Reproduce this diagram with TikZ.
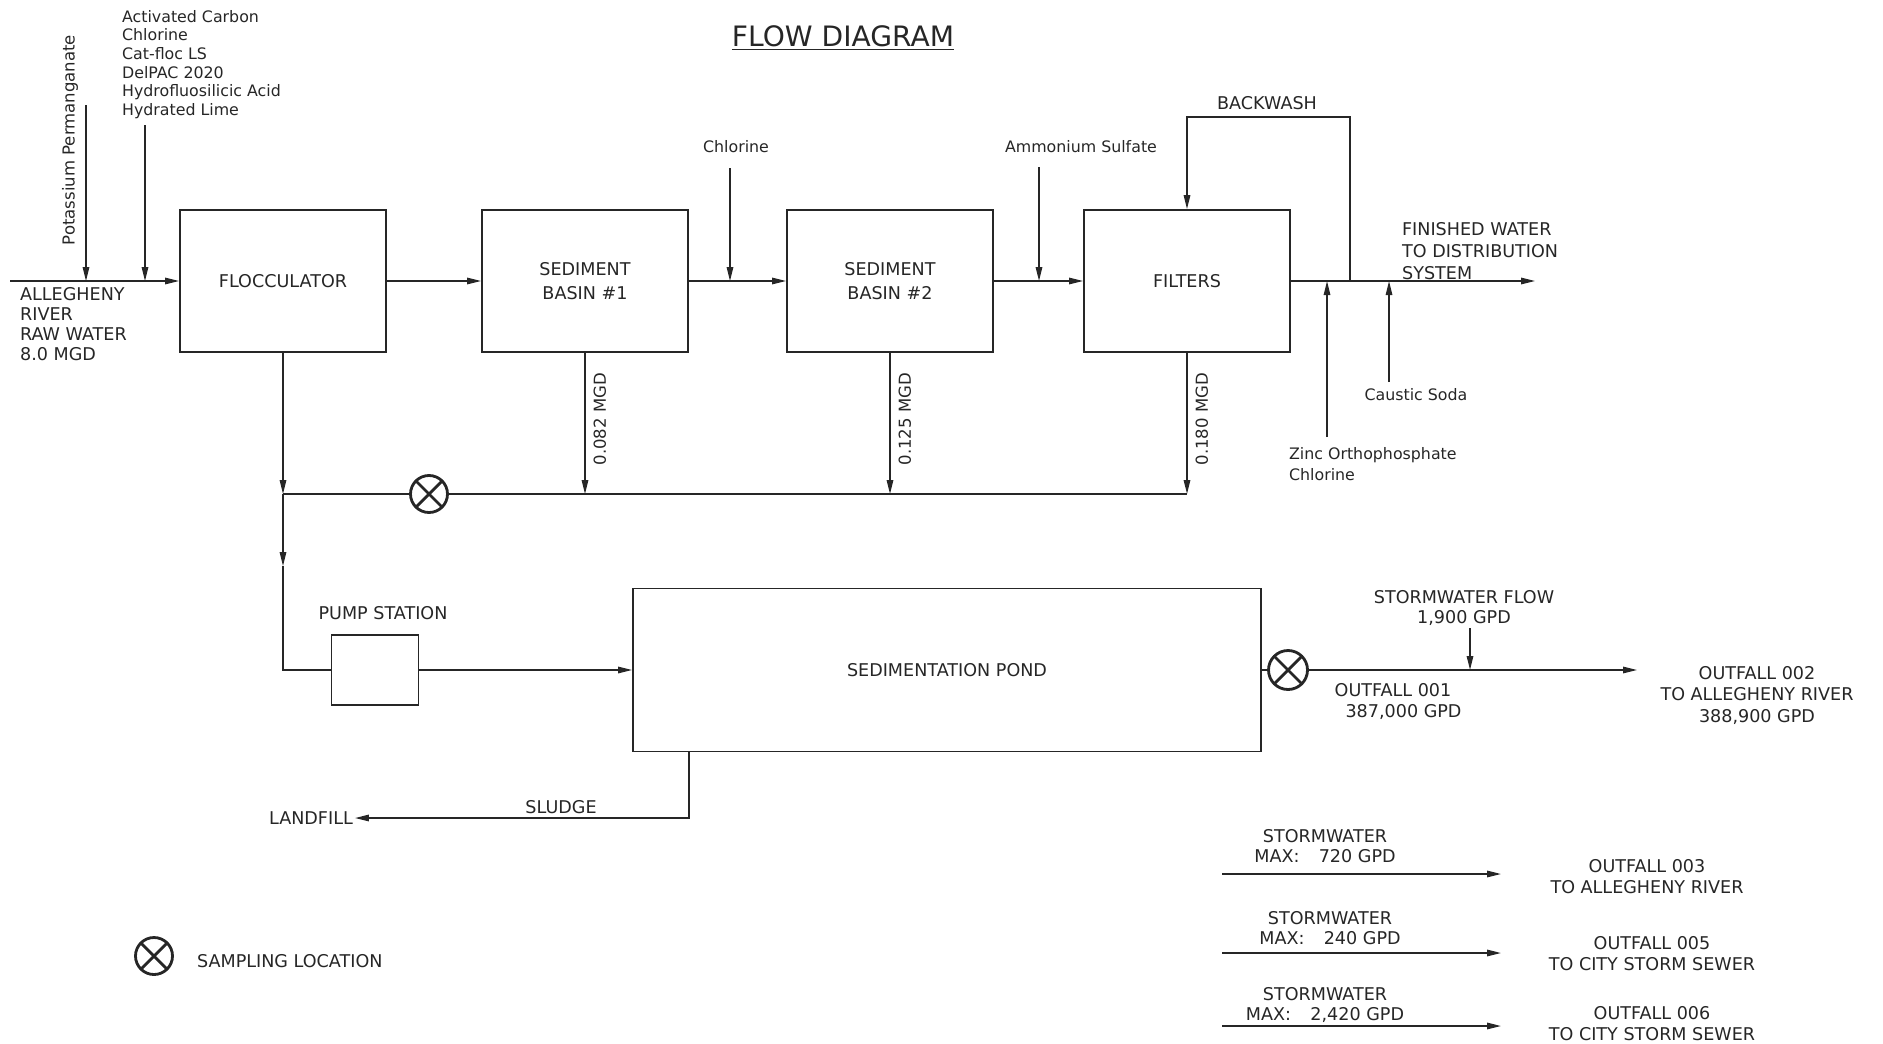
\documentclass[tikz,border=0pt]{standalone}
\usepackage{fontspec}
\setmainfont{DejaVu Sans}
\usepackage{tikz}
\usetikzlibrary{arrows.meta}
\colorlet{ink}{black!85}
\tikzset{
  >={Triangle[length=2.8mm,width=1.3mm]},
  pipe/.style={draw=ink, line width=0.8pt},
  arrow/.style={-{Triangle[length=2.8mm,width=1.3mm]}, draw=ink, line width=0.8pt},
  box/.style={
    rectangle,
    draw=ink,
    line width=1pt,
    minimum width=41.2mm,
    minimum height=28.4mm,
    align=center,
    text=ink,
    font=\fontsize{10pt}{14pt}\selectfont
  },
  lbl/.style={text=ink, align=center, inner sep=1pt, font=\fontsize{10pt}{11.4pt}\selectfont},
  widelbl/.style={lbl, font=\fontsize{10pt}{12.4pt}\selectfont},
  note/.style={text=ink, align=left, inner sep=1pt, font=\fontsize{9pt}{10.6pt}\selectfont},
  tilted/.style={rotate=90, text=ink, inner sep=4.5pt, font=\fontsize{9.4pt}{11pt}\selectfont},
  samp/.style={
    circle,
    draw=ink,
    fill=white,
    line width=1.6pt,
    minimum size=7.4mm,
    inner sep=0pt,
    path picture={
      \draw[ink, line width=1.6pt]
        (path picture bounding box.north west) -- (path picture bounding box.south east)
        (path picture bounding box.north east) -- (path picture bounding box.south west);
    }
  }
}
\newcommand{\FlowTitle}[1]{%
  \node[text=ink, font=\fontsize{16pt}{18pt}\selectfont] (title) at (843,38) {\underline{#1}};
}

\begin{document}
\begin{tikzpicture}[x=0.2mm,y=-0.2mm]
  \useasboundingbox (0,0) rectangle (1883,1043);
  \FlowTitle{FLOW DIAGRAM}

  % treatment train
  \node[box] (floc) at (283,281) {FLOCCULATOR};
  \node[box] (sb1) at (585,281) {SEDIMENT\\BASIN \#1};
  \node[box] (sb2) at (890,281) {SEDIMENT\\BASIN \#2};
  \node[box] (filt) at (1187,281) {FILTERS};

  \coordinate (rawin) at (10,281);
  \draw[arrow] (rawin) -- (floc.west);
  \draw[arrow] (floc.east) -- (sb1.west);
  \draw[arrow] (sb1.east) -- (sb2.west);
  \draw[arrow] (sb2.east) -- (filt.west);
  \node[lbl, align=left, anchor=north west] (raw) at (18,285) {ALLEGHENY\\RIVER\\RAW WATER\\8.0 MGD};

  % chemical feeds
  \coordinate (kmtop) at (86,105);
  \coordinate (chemtop) at (145,125);
  \coordinate (cltop) at (730,168);
  \coordinate (amtop) at (1039,167);
  \draw[arrow] (kmtop) -- (kmtop |- floc.west);
  \draw[arrow] (chemtop) -- (chemtop |- floc.west);
  \draw[arrow] (cltop) -- (cltop |- sb1.east);
  \draw[arrow] (amtop) -- (amtop |- sb2.east);
  \node[tilted, inner sep=1pt, font=\fontsize{9.4pt}{11pt}\selectfont] (kmno) at (70,140) {Potassium Permanganate};
  \node[note, anchor=north west] (chems) at (120,8)
    {Activated Carbon\\Chlorine\\Cat-floc LS\\DelPAC 2020\\Hydrofluosilicic Acid\\Hydrated Lime};
  \node[note] (cl) at (736,147) {Chlorine};
  \node[note] (amsulf) at (1081,147) {Ammonium Sulfate};

  % finished water and backwash
  \coordinate (finish) at (1535,281);
  \coordinate (bwjoin) at (1350,281);
  \coordinate (bwtop) at (1350,117);
  \draw[arrow] (filt.east) -- (finish);
  \draw[arrow] (bwjoin) -- (bwtop) -| (filt.north);
  \node[lbl] (bw) at (1267,103) {BACKWASH};
  \node[lbl, align=left, anchor=north west, font=\fontsize{10pt}{12.5pt}\selectfont] (fw) at (1400,220)
    {FINISHED WATER\\TO DISTRIBUTION\\SYSTEM};
  \coordinate (znbot) at (1327,437);
  \coordinate (csbot) at (1389,382);
  \draw[arrow] (znbot) -- (znbot |- filt.east);
  \draw[arrow] (csbot) -- (csbot |- filt.east);
  \node[note] (caustic) at (1416,395) {Caustic Soda};
  \node[note, anchor=north west, font=\fontsize{9pt}{12pt}\selectfont] (zinc) at (1287,445)
    {Zinc Orthophosphate\\Chlorine};

  % waste collection
  \coordinate (colljoin) at (283,494);
  \coordinate (collend) at (1187,494);
  \draw[arrow] (floc.south) -- (colljoin);
  \draw[pipe] (colljoin) -- (collend);
  \draw[arrow] (sb1.south) -- (sb1.south |- colljoin) node[tilted, pos=0.47, anchor=north] (q1) {0.082 MGD};
  \draw[arrow] (sb2.south) -- (sb2.south |- colljoin) node[tilted, pos=0.47, anchor=north] (q2) {0.125 MGD};
  \draw[arrow] (filt.south) -- (filt.south |- colljoin) node[tilted, pos=0.47, anchor=north] (q3) {0.180 MGD};
  \node[samp] (samp1) at (429,494) {};

  % pond
  \node[box, minimum width=17.4mm, minimum height=14mm] (pump) at (375,670) {};
  \node[lbl] (pumplbl) at (383,613) {PUMP STATION};
  \node[box, minimum width=125.6mm, minimum height=32.6mm] (pond) at (947,670) {SEDIMENTATION POND};
  \coordinate (pumpdrop) at (283,566);
  \draw[arrow] (colljoin) -- (pumpdrop);
  \draw[pipe] (pumpdrop) |- (pump.west);
  \draw[arrow] (pump.east) -- (pond.west);

  \node[lbl] (landfill) at (311,818) {LANDFILL};
  \coordinate (sludgebend) at (689,818);
  \draw[arrow] (sludgebend |- pond.south) -- (sludgebend) -- (landfill.east);
  \node[lbl] (sludge) at (561,807) {SLUDGE};

  % outfalls
  \node[samp, minimum size=7.8mm] (samp2) at (1288,670) {};
  \coordinate (out2end) at (1637,670);
  \draw[pipe] (pond.east) -- (samp2);
  \draw[arrow] (samp2) -- (out2end);
  \coordinate (swtop) at (1470,628);
  \draw[arrow] (swtop) -- (swtop |- samp2);
  \node[lbl, anchor=north] (swflow) at (1464,588) {STORMWATER FLOW\\1,900 GPD};
  \node[widelbl, anchor=north] (out1) at (1393,681) {OUTFALL 001\\\hspace{1.2em}387,000 GPD};
  \node[widelbl, anchor=north] (out2) at (1757,664) {OUTFALL 002\\TO ALLEGHENY RIVER\\388,900 GPD};

  \coordinate (s3a) at (1222,874);
  \coordinate (s3b) at (1501,874);
  \coordinate (s5a) at (1222,953);
  \coordinate (s5b) at (1501,953);
  \coordinate (s6a) at (1222,1026);
  \coordinate (s6b) at (1501,1026);
  \draw[arrow] (s3a) -- (s3b);
  \draw[arrow] (s5a) -- (s5b);
  \draw[arrow] (s6a) -- (s6b);
  \node[lbl, anchor=north] (sw3) at (1325,827) {STORMWATER\\MAX:\hspace{1.1em}720 GPD};
  \node[lbl, anchor=north] (sw5) at (1330,909) {STORMWATER\\MAX:\hspace{1.1em}240 GPD};
  \node[lbl, anchor=north] (sw6) at (1325,985) {STORMWATER\\MAX:\hspace{1.1em}2,420 GPD};
  \node[widelbl, anchor=north] (out3) at (1647,857) {OUTFALL 003\\TO ALLEGHENY RIVER};
  \node[widelbl, anchor=north] (out5) at (1652,934) {OUTFALL 005\\TO CITY STORM SEWER};
  \node[widelbl, anchor=north] (out6) at (1652,1004) {OUTFALL 006\\TO CITY STORM SEWER};

  % legend
  \node[samp] (key) at (154,956) {};
  \node[lbl, anchor=west] (keytext) at (195,961) {SAMPLING LOCATION};
\end{tikzpicture}
\end{document}
